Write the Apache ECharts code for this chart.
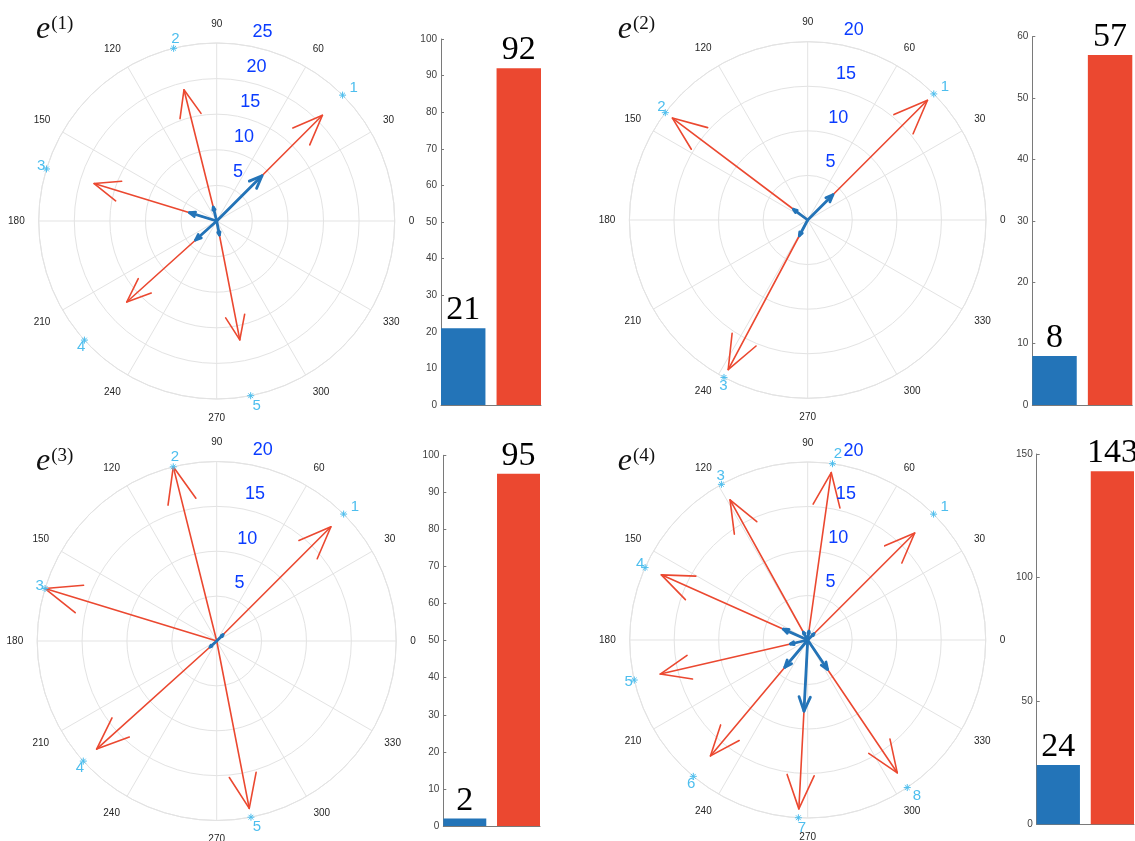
<!DOCTYPE html>
<html><head><meta charset="utf-8">
<script src="https://cdn.jsdelivr.net/npm/echarts@6/dist/echarts.min.js"></script>
<style>html,body{margin:0;padding:0;background:#fff}#c{width:1135px;height:841px}</style>
</head><body><div id="c"></div>
<script>
// ---------- data ----------
const panelTitles = ['(1)', '(2)', '(3)', '(4)'];
const angles1 = [45, 104, 163, 222, 281];
const redMag1 = [21, 19, 18, 17, 17];
const blueMag1 = [9, 2, 4, 4, 2];
const bars1 = [21, 92];
const angles2 = [45, 143, 242];
const redMag2 = [19, 19, 19];
const blueMag2 = [4, 2, 2];
const bars2 = [8, 57];
const angles3 = [45, 104, 163, 222, 281];
const redMag3 = [18, 20, 20, 18, 19];
const blueMag3 = [1, 0, 0, 1, 0];
const bars3 = [2, 95];
const angles4 = [45, 82, 119, 156, 193, 230, 267, 304];
const redMag4 = [17, 19, 18, 18, 17, 17, 19, 18];
const blueMag4 = [1, 1, 1, 3, 2, 4, 8, 4];
const bars4 = [24, 143];
const rMax = [25, 20, 20, 20];
const ringTicks1 = [5, 10, 15, 20, 25];
const ringTicks2 = [5, 10, 15, 20];
const ringTicks3 = [5, 10, 15, 20];
const ringTicks4 = [5, 10, 15, 20];
const angleStep = 30;
const barAxisMax = [100, 60, 100, 150];
const barAxisStep = [10, 10, 10, 50];

// ---------- layout / style ----------
const panels = [
  {angles: angles1, red: redMag1, blue: blueMag1, bars: bars1, rings: ringTicks1},
  {angles: angles2, red: redMag2, blue: blueMag2, bars: bars2, rings: ringTicks2},
  {angles: angles3, red: redMag3, blue: blueMag3, bars: bars3, rings: ringTicks3},
  {angles: angles4, red: redMag4, blue: blueMag4, bars: bars4, rings: ringTicks4}
];
const polarLayout = [
  {center: [216.7, 221], radius: 178},
  {center: [807.7, 220], radius: 178.3},
  {center: [216.7, 641], radius: 179.5},
  {center: [807.7, 640], radius: 178}
];
const gridLayout = [
  {left: 441, top: 39, width: 100, height: 366},
  {left: 1032.3, top: 36.7, width: 100, height: 368.3},
  {left: 443.3, top: 455.3, width: 96.7, height: 370.7},
  {left: 1036.7, top: 454, width: 97.3, height: 370.3}
];
const titlePos = [[36, 15], [617.7, 15], [36, 447], [617.7, 447]];
const C_BLUE = '#2374B8', C_RED = '#EB4830', C_CYAN = '#4DBEEE', C_TICKBLUE = '#0A3CFF', C_GRID = '#E3E3E3';
const XLIM = [0.6, 2.4];

function arrowRender(color, width) {
  return function (params, api) {
    const r = api.value(0), a = api.value(1);
    if (!(r > 0)) return {type: 'group', children: []};
    const o = api.coord([0, a]);
    const tip = api.coord([r, a]);
    const hr = r * Math.sqrt(0.8 * 0.8 + 0.08 * 0.08);
    const da = Math.atan2(0.08, 0.8) * 180 / Math.PI;
    const h1 = api.coord([hr, a + da]);
    const h2 = api.coord([hr, a - da]);
    const st = {stroke: color, lineWidth: width, fill: null, lineJoin: 'round', lineCap: 'round'};
    return {type: 'group', children: [
      {type: 'polyline', shape: {points: [o, tip]}, style: st},
      {type: 'polyline', shape: {points: [h1, tip, h2]}, style: st}
    ]};
  };
}

const option = {
  animation: false,
  backgroundColor: '#fff',
  title: [], polar: [], angleAxis: [], radiusAxis: [], grid: [], xAxis: [], yAxis: [], series: []
};

panels.forEach((p, i) => {
  option.title.push({
    left: titlePos[i][0], top: titlePos[i][1], padding: 0,
    text: '{e|e}{s|' + panelTitles[i] + '}',
    textStyle: {fontWeight: 'normal', rich: {
      e: {fontFamily: 'Liberation Serif', fontStyle: 'italic', fontWeight: 'normal', fontSize: 32, color: '#111', lineHeight: 30},
      s: {fontFamily: 'Liberation Serif', fontWeight: 'normal', fontSize: 19, color: '#111', verticalAlign: 'top', padding: [0, 0, 0, 1]}
    }}
  });
  option.polar.push({center: polarLayout[i].center, radius: polarLayout[i].radius});
  option.angleAxis.push({
    polarIndex: i, type: 'value', min: 0, max: 360, interval: angleStep,
    startAngle: 0, clockwise: false,
    axisLine: {show: true, lineStyle: {color: C_GRID, width: 1}},
    axisTick: {show: false},
    splitLine: {show: true, lineStyle: {color: C_GRID, width: 1}},
    axisLabel: {show: true, margin: 14, color: '#262626', fontSize: 10, fontFamily: 'Liberation Sans',
      formatter: v => (v >= 360 ? '' : String(v))}
  });
  option.radiusAxis.push({
    polarIndex: i, type: 'value', min: 0, max: rMax[i], interval: 5,
    axisLine: {show: false}, axisTick: {show: false}, axisLabel: {show: false},
    splitLine: {show: true, lineStyle: {color: C_GRID, width: 1}}
  });
  option.grid.push(Object.assign({containLabel: false}, gridLayout[i]));
  option.xAxis.push({
    gridIndex: i, type: 'value', min: XLIM[0], max: XLIM[1],
    axisLine: {show: true, onZero: false, lineStyle: {color: '#7a7a7a', width: 1}},
    axisTick: {show: false}, axisLabel: {show: false}, splitLine: {show: false}
  });
  option.yAxis.push({
    gridIndex: i, type: 'value', min: 0, max: barAxisMax[i], interval: barAxisStep[i],
    axisLine: {show: true, lineStyle: {color: '#7a7a7a', width: 1}},
    axisTick: {show: true, inside: true, length: 3, lineStyle: {color: '#7a7a7a'}},
    axisLabel: {show: true, margin: 4, color: '#404040', fontSize: 10, fontFamily: 'Liberation Sans'},
    splitLine: {show: false}
  });
  // red arrows
  option.series.push({
    type: 'custom', coordinateSystem: 'polar', polarIndex: i, clip: false, z: 3,
    encode: {radius: 0, angle: 1},
    data: p.angles.map((a, k) => [p.red[k], a]),
    renderItem: arrowRender(C_RED, 1.6)
  });
  // blue arrows
  option.series.push({
    type: 'custom', coordinateSystem: 'polar', polarIndex: i, clip: false, z: 4,
    encode: {radius: 0, angle: 1},
    data: p.angles.map((a, k) => [p.blue[k], a]),
    renderItem: arrowRender(C_BLUE, 2.8)
  });
  // asterisk markers on outer ring
  option.series.push({
    type: 'scatter', coordinateSystem: 'polar', polarIndex: i, clip: false, z: 5,
    symbol: 'path://M5,0L5,10M0,5L10,5M1.6,1.6L8.4,8.4M1.6,8.4L8.4,1.6',
    symbolSize: 7,
    itemStyle: {color: 'rgba(0,0,0,0)', borderColor: C_CYAN, borderWidth: 1, opacity: 1},
    data: p.angles.map(a => [rMax[i], a])
  });
  // asterisk number labels
  option.series.push({
    type: 'scatter', coordinateSystem: 'polar', polarIndex: i, clip: false, z: 5,
    symbolSize: 0, itemStyle: {opacity: 1},
    data: p.angles.map(a => [rMax[i] * 1.056, a]),
    label: {show: true, position: 'right', distance: 0, color: C_CYAN, fontSize: 15, opacity: 1,
      fontFamily: 'Liberation Sans', formatter: prm => String(prm.dataIndex + 1)}
  });
  // ring (radius) labels
  option.series.push({
    type: 'scatter', coordinateSystem: 'polar', polarIndex: i, clip: false, z: 6,
    symbolSize: 0, itemStyle: {opacity: 1},
    data: p.rings.map(v => [v, 80]),
    label: {show: true, position: 'inside', offset: [15, -14], color: C_TICKBLUE, fontSize: 18, opacity: 1,
      fontFamily: 'Liberation Sans', formatter: prm => String(prm.value[0])}
  });
  // bars
  const gw = gridLayout[i].width;
  option.series.push({
    type: 'bar', xAxisIndex: i, yAxisIndex: i,
    barWidth: gw * 0.8 / (XLIM[1] - XLIM[0]),
    data: p.bars.map((v, k) => ({value: [k + 1, v], itemStyle: {color: k === 0 ? C_BLUE : C_RED}})),
    label: {show: true, position: 'top', distance: 1, color: '#000', fontSize: 34,
      fontFamily: 'Liberation Serif', formatter: prm => String(prm.value[1])}
  });
});

const chart = echarts.init(document.getElementById('c'), null, {renderer: 'canvas'});
chart.setOption(option);
</script>
</body></html>
